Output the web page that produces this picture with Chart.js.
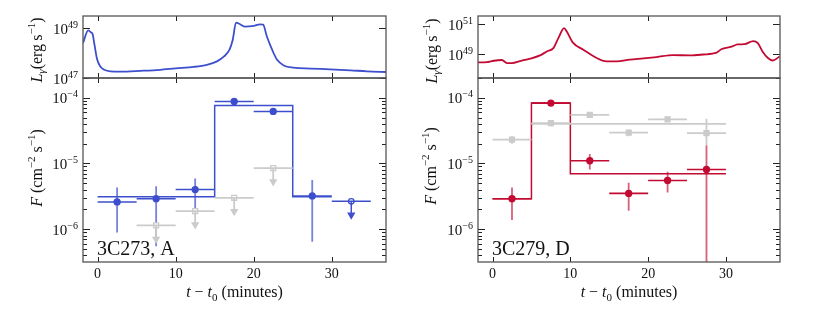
<!DOCTYPE html>
<html>
<head>
<meta charset="utf-8">
<script src="https://cdn.jsdelivr.net/npm/chart.js@4.4.1/dist/chart.umd.min.js"></script>
<style>
  body { margin: 0; background: #fff; }
  #wrap { position: relative; width: 822px; height: 329px; }
  canvas { position: absolute; left: 0; top: 0; }
</style>
</head>
<body>
<div id="wrap">
  <canvas id="lc-a" width="822" height="329"></canvas>
  <canvas id="flux-a" width="822" height="329"></canvas>
  <canvas id="lc-d" width="822" height="329"></canvas>
  <canvas id="flux-d" width="822" height="329"></canvas>
</div>
<script>
// axis range and ticks
var tMin = -1.87, tMax = 36.95;
var xTicks = [0, 10, 20, 30];
var lumTicksA = [47, 49];
var lumTicksD = [49, 51];
var fluxTicks = [-6, -5, -4];

// light curves (t - t0 in minutes, L in erg/s)
var lcTimeA = [-1.87, -1.2, -0.85, -0.63, -0.42, -0.08, 0.35, 0.86, 1.63, 2.9, 5.5, 8.0, 10.0, 12.3, 14.0, 15.3, 16.2, 16.9, 17.3, 17.74, 18.2, 18.9, 20.0, 20.8, 21.2, 21.7, 22.4, 23.0, 23.85, 25.1, 27.3, 29.8, 32.4, 34.5, 37];
var lcLumA = [2.57e48, 8.3e48, 6.9e48, 5.75e48, 2.45e48, 6.0e47, 2.9e47, 2.14e47, 1.86e47, 1.82e47, 1.95e47, 2.14e47, 2.45e47, 2.8e47, 3.4e47, 4.7e47, 7.4e47, 1.38e48, 3.3e48, 1.7e49, 1.5e49, 1.17e49, 1.26e49, 1.45e49, 1.41e49, 4.6e48, 1.29e48, 5.4e47, 3.2e47, 2.6e47, 2.4e47, 2.24e47, 2.04e47, 1.86e47, 1.74e47];

var lcTimeD = [-1.87, -0.72, -0.08, 1.2, 1.85, 2.5, 3.55, 4.83, 6.1, 6.97, 7.82, 8.46, 9.2, 9.54, 10.3, 11.67, 13.4, 14.4, 15.95, 17.65, 19.4, 21.1, 23.2, 25.35, 27.05, 28.8, 29.4, 30.7, 31.5, 32.4, 33.5, 34.1, 34.7, 35.4, 36.0, 36.9];
var lcLumD = [2.75e48, 2.9e48, 3.4e48, 4.0e48, 2.5e48, 2.5e48, 3.4e48, 4.9e48, 8.1e48, 1.48e49, 2.5e49, 1.17e50, 5.4e50, 3.2e50, 6.0e49, 1.95e49, 5.4e48, 3.4e48, 3.2e48, 4.2e48, 5.1e48, 6.3e48, 8.5e48, 8.1e48, 9.3e48, 1.23e49, 2.1e49, 3.1e49, 4.4e49, 4.6e49, 7.4e49, 5.4e49, 1.48e49, 5.4e48, 3.7e48, 6.9e48];

// binned fluxes (cm^-2 s^-1), 5-minute bins
var binHalf = 2.5;
var binTime = [2.5, 7.5, 12.5, 17.5, 22.5, 27.5];

var fluxA = [2.6e-6, 2.9e-6, 4.0e-6, 8.8e-5, 6.2e-5, 3.2e-6];
var fluxAHi = [4.3e-6, 4.5e-6, 5.9e-6, 9.6e-5, 6.9e-5, 5.6e-6];
var fluxALo = [8.9e-7, 5.5e-7, 2.1e-6, 8.0e-5, 5.5e-5, 6.4e-7];
var limTimeA = [32.5];
var limFluxA = [2.65e-6];
var greyLimTimeA = [7.5, 12.5, 17.5, 22.5];
var greyLimFluxA = [1.14e-6, 1.88e-6, 3.0e-6, 8.5e-6];
var stepEdgesA = [0, 15, 25, 30];
var stepFluxA = [3.1e-6, 7.6e-5, 3.1e-6];

var fluxD = [2.9e-6, 8.3e-5, 1.1e-5, 3.5e-6, 5.5e-6, 8.1e-6];
var fluxDHi = [4.3e-6, 8.7e-5, 1.39e-5, 5.1e-6, 7.5e-6, 1.9e-5];
var fluxDLo = [1.38e-6, 7.9e-5, 8.1e-6, 1.9e-6, 3.6e-6, 1e-9];
var greyFluxD = [2.3e-5, 4.1e-5, 5.5e-5, 2.95e-5, 4.7e-5, 2.9e-5];
var greyFluxDHi = [2.6e-5, 4.5e-5, 5.9e-5, 3.3e-5, 5.1e-5, 4.8e-5];
var greyFluxDLo = [2.0e-5, 3.7e-5, 5.1e-5, 2.6e-5, 4.3e-5, 1.9e-5];
var stepEdgesD = [0, 5, 10, 30];
var stepFluxD = [2.9e-6, 8.3e-5, 7.0e-6];
var greyStepEdgesD = [5, 30];
var greyStepFluxD = [4.0e-5];

// styles
var BLUE = '#3d4fcc', BLUE_ERR = 'rgba(61,79,204,0.7)';
var RED = '#c20a32', RED_ERR = 'rgba(194,10,50,0.65)';
var GREY = '#cbcbcb';
var ARROW = 0.62;
var FAM = '"Liberation Serif", "Times New Roman", serif';

function xy(xs, ys) { return xs.map(function (x, i) { return { x: x, y: ys[i] }; }); }
function stepData(edges, vals) {
  return edges.map(function (e, i) { return { x: e, y: vals[Math.min(i, vals.length - 1)] }; });
}
function hBars(ts, fs) {
  var d = [];
  ts.forEach(function (t, i) { d.push({ x: t - binHalf, y: fs[i] }, { x: t + binHalf, y: fs[i] }, { x: t, y: null }); });
  return d;
}
function vBars(ts, lo, hi) {
  var d = [];
  ts.forEach(function (t, i) { d.push({ x: t, y: lo[i] }, { x: t, y: hi[i] }, { x: t, y: null }); });
  return d;
}
function scaled(fs, k) { return fs.map(function (f) { return f * k; }); }

function lineSet(data, color, width, extra) {
  var s = { data: data, borderColor: color, borderWidth: width, pointRadius: 0, fill: false, spanGaps: false };
  for (var k in extra) s[k] = extra[k];
  return s;
}
function pointSet(data, style, fillC, edgeC, r, extra) {
  var s = { data: data, showLine: false, pointStyle: style, pointRadius: r, pointBackgroundColor: fillC,
            pointBorderColor: edgeC, pointBorderWidth: 1.3 };
  for (var k in extra) s[k] = extra[k];
  return s;
}

function richText(ctx, parts, x, y, align, size) {
  function fontOf(p) {
    var small = p[1].indexOf('sup') >= 0 || p[1].indexOf('sub') >= 0;
    return (p[1].indexOf('i') === 0 ? 'italic ' : '') + (small ? Math.round(size * 0.68) : size) + 'px ' + FAM;
  }
  var w = 0;
  parts.forEach(function (p) { ctx.font = fontOf(p); w += ctx.measureText(p[0]).width; });
  var cx = align === 'right' ? x - w : align === 'center' ? x - w / 2 : x;
  ctx.textAlign = 'left';
  ctx.textBaseline = 'alphabetic';
  parts.forEach(function (p) {
    ctx.font = fontOf(p);
    var dy = p[1].indexOf('sup') >= 0 ? -size * 0.4 : p[1].indexOf('sub') >= 0 ? size * 0.22 : 0;
    ctx.fillText(p[0], cx, y + dy);
    cx += ctx.measureText(p[0]).width;
  });
}

function framePlugin(opt) {
  return {
    id: 'frame',
    afterDraw: function (chart) {
      var ctx = chart.ctx, a = chart.chartArea, xs = chart.scales.x, ys = chart.scales.y;
      ctx.save();
      ctx.strokeStyle = '#222';
      ctx.lineWidth = 1;
      ctx.beginPath();
      xTicks.forEach(function (v) {
        var px = Math.round(xs.getPixelForValue(v)) + 0.5;
        ctx.moveTo(px, a.top); ctx.lineTo(px, a.top + 5);
        ctx.moveTo(px, a.bottom); ctx.lineTo(px, a.bottom - 5);
      });
      opt.yTicks.forEach(function (e) {
        var py = Math.round(ys.getPixelForValue(Math.pow(10, e))) + 0.5;
        ctx.moveTo(a.left, py); ctx.lineTo(a.left + 7, py);
        ctx.moveTo(a.right, py); ctx.lineTo(a.right - 7, py);
      });
      if (opt.minor) {
        var lo = Math.floor(Math.log10(ys.min)), hi = Math.ceil(Math.log10(ys.max));
        for (var e = lo; e <= hi; e++) {
          for (var m = 2; m <= 9; m++) {
            var v = m * Math.pow(10, e);
            if (v < ys.min || v > ys.max) continue;
            var py = Math.round(ys.getPixelForValue(v)) + 0.5;
            ctx.moveTo(a.left, py); ctx.lineTo(a.left + 4, py);
            ctx.moveTo(a.right, py); ctx.lineTo(a.right - 4, py);
          }
        }
      }
      ctx.stroke();
      ctx.strokeStyle = '#555';
      ctx.lineWidth = 1.3;
      ctx.strokeRect(a.left, a.top, a.right - a.left, a.bottom - a.top);

      ctx.fillStyle = '#111';
      opt.yTicks.forEach(function (e) {
        var py = ys.getPixelForValue(Math.pow(10, e));
        var ex = e < 0 ? '\u2212' + (-e) : String(e);
        richText(ctx, [['10', ''], [ex, 'sup']], a.left - 5, py + 5.5, 'right', 15);
      });
      if (opt.xLabels) {
        xTicks.forEach(function (v) {
          ctx.font = '14px ' + FAM;
          ctx.textAlign = 'center';
          ctx.textBaseline = 'alphabetic';
          ctx.fillText(String(v), xs.getPixelForValue(v), a.bottom + 16);
        });
        richText(ctx, [['t', 'i'], [' \u2212 ', ''], ['t', 'i'], ['0', 'sub'], [' (minutes)', '']],
                 (a.left + a.right) / 2, a.bottom + 35, 'center', 16);
      }
      ctx.translate(opt.titleX, opt.titleY);
      ctx.rotate(-Math.PI / 2);
      richText(ctx, opt.title, 0, 5.5, 'center', 16);
      ctx.setTransform(1, 0, 0, 1, 0, 0);
      if (opt.name) {
        ctx.font = '20px ' + FAM;
        ctx.textAlign = 'left';
        ctx.fillText(opt.name, a.left + 14, a.bottom - 7);
      }
      ctx.restore();
    }
  };
}

function makeChart(id, pad, yMin, yMax, datasets, opt) {
  return new Chart(document.getElementById(id), {
    type: 'line',
    data: { datasets: datasets },
    options: {
      responsive: false,
      animation: false,
      layout: { padding: pad },
      plugins: { legend: { display: false }, tooltip: { enabled: false } },
      scales: {
        x: { type: 'linear', min: tMin, max: tMax, display: false },
        y: { type: 'logarithmic', min: yMin, max: yMax, display: false }
      }
    },
    plugins: [framePlugin(opt)]
  });
}

var lumTitle = [['L', 'i'], ['\u03b3', 'i sub'], ['(erg\u2009s', ''], ['\u22121', 'sup'], [')', '']];
var fluxTitle = [['F', 'i'], [' (cm', ''], ['\u22122', 'sup'], [' s', ''], ['\u22121', 'sup'], [')', '']];

// 3C273, A
makeChart('lc-a', { left: 83, right: 822 - 386, top: 16, bottom: 329 - 78 }, 1e47, 3.16e49, [
  lineSet(xy(lcTimeA, lcLumA), BLUE, 1.8, { cubicInterpolationMode: 'monotone' })
], { yTicks: lumTicksA, minor: false, xLabels: false, title: lumTitle, titleX: 36, titleY: 50 });

makeChart('flux-a', { left: 83, right: 822 - 386, top: 78, bottom: 329 - 262 }, 3.16e-7, 2e-4, [
  lineSet(hBars(greyLimTimeA, greyLimFluxA), GREY, 1.8),
  lineSet(vBars(greyLimTimeA, scaled(greyLimFluxA, ARROW), greyLimFluxA), GREY, 1.8),
  pointSet(xy(greyLimTimeA, scaled(greyLimFluxA, ARROW)), 'triangle', GREY, GREY, 3.5, { rotation: 180 }),
  pointSet(xy(greyLimTimeA, greyLimFluxA), 'rect', '#fff', GREY, 3.5),
  lineSet(stepData(stepEdgesA, stepFluxA), BLUE, 1.5, { stepped: true }),
  lineSet(vBars(binTime, fluxALo, fluxAHi), BLUE_ERR, 1.8),
  lineSet(hBars(binTime, fluxA), BLUE, 1.5),
  lineSet(hBars(limTimeA, limFluxA), BLUE, 1.5),
  lineSet(vBars(limTimeA, scaled(limFluxA, ARROW), limFluxA), BLUE, 1.5),
  pointSet(xy(limTimeA, scaled(limFluxA, ARROW)), 'triangle', BLUE, BLUE, 3.5, { rotation: 180 }),
  pointSet(xy(binTime, fluxA), 'circle', BLUE, BLUE, 3),
  pointSet(xy(limTimeA, limFluxA), 'circle', '#fff', BLUE, 2.8)
], { yTicks: fluxTicks, minor: true, xLabels: true, title: fluxTitle, titleX: 36, titleY: 168, name: '3C273, A' });

// 3C279, D
makeChart('lc-d', { left: 478, right: 822 - 780, top: 16, bottom: 329 - 78 }, 2.5e47, 3.5e51, [
  lineSet(xy(lcTimeD, lcLumD), RED, 1.8, { cubicInterpolationMode: 'monotone' })
], { yTicks: lumTicksD, minor: false, xLabels: false, title: lumTitle, titleX: 431, titleY: 51 });

makeChart('flux-d', { left: 478, right: 822 - 780, top: 78, bottom: 329 - 262 }, 3.16e-7, 2e-4, [
  lineSet(stepData(greyStepEdgesD, greyStepFluxD), GREY, 1.8, { stepped: true }),
  lineSet(vBars(binTime, greyFluxDLo, greyFluxDHi), GREY, 1.8),
  lineSet(hBars(binTime, greyFluxD), GREY, 1.8),
  pointSet(xy(binTime, greyFluxD), 'rect', GREY, GREY, 3.5),
  lineSet(stepData(stepEdgesD, stepFluxD), RED, 1.5, { stepped: true }),
  lineSet(vBars(binTime, fluxDLo, fluxDHi), RED_ERR, 1.8),
  lineSet(hBars(binTime, fluxD), RED, 1.6),
  pointSet(xy(binTime, fluxD), 'circle', RED, RED, 3)
], { yTicks: fluxTicks, minor: true, xLabels: true, title: fluxTitle, titleX: 430, titleY: 166, name: '3C279, D' });
</script>
</body>
</html>
